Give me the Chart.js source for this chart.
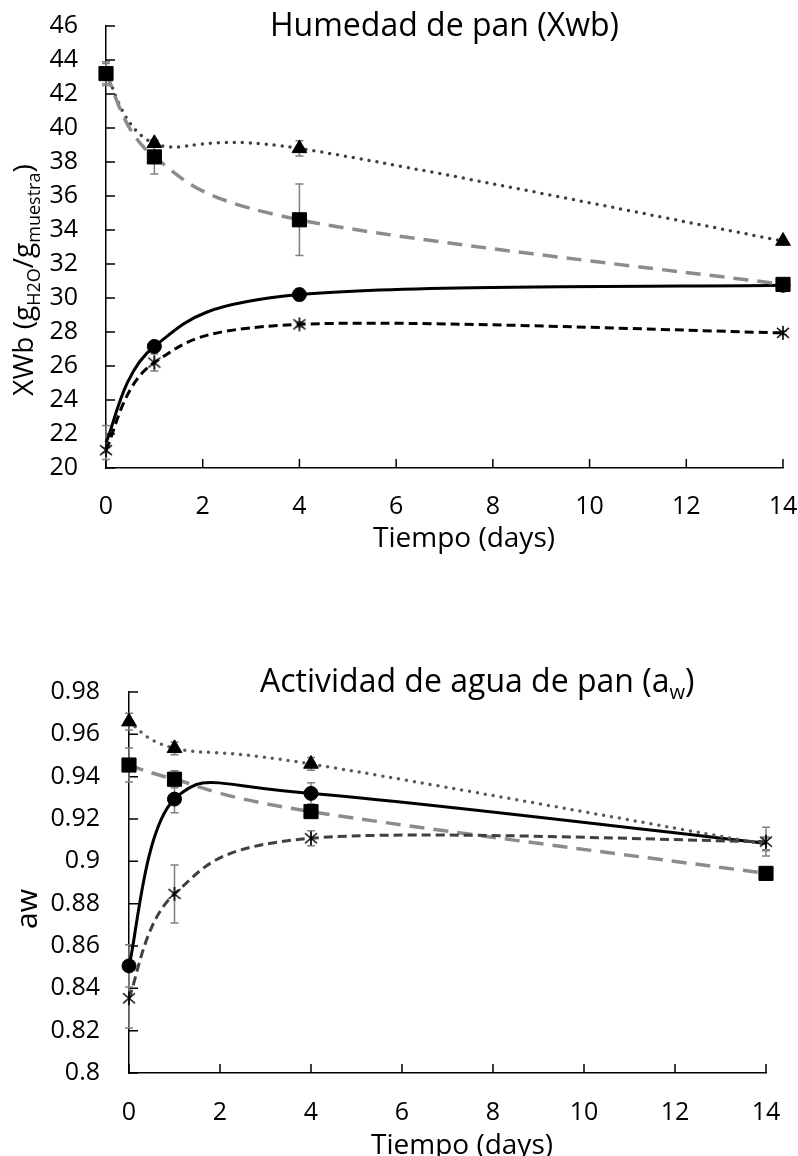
<!DOCTYPE html>
<html>
<head>
<meta charset="utf-8">
<script src="https://cdn.jsdelivr.net/npm/chart.js@4.4.0/dist/chart.umd.min.js"></script>
<style>
  body { margin: 0; background: #fff; }
  #wrap { position: relative; width: 798px; height: 1156px; }
  canvas { position: absolute; left: 0; }
</style>
</head>
<body>
<div id="wrap">
  <canvas id="xwb-chart" width="798" height="580" style="top:0"></canvas>
  <canvas id="aw-chart" width="798" height="576" style="top:580px"></canvas>
</div>
<script>
const days = [0, 1, 4, 14];

// Humedad (Xwb) per sample, with std. deviation
const xwbCircle = [21.5, 27.15, 30.2, 30.75];
const xwbCircleErr = [1.0, 0.25, 0.35, 0.2];
const xwbStar = [21.05, 26.2, 28.45, 27.95];
const xwbStarErr = [0.15, 0.5, 0.15, 0.1];
const xwbTriangle = [43.2, 39.1, 38.8, 33.35];
const xwbTriangleErr = [0.6, 0.2, 0.45, 0.1];
const xwbSquare = [43.2, 38.3, 34.6, 30.8];
const xwbSquareErr = [0.7, 1.0, 2.1, 0.15];

// Actividad de agua (aw)
const awCircle = [0.8506, 0.9294, 0.9321, 0.9085];
const awCircleErr = [0.01, 0.0065, 0.005, 0.003];
const awStar = [0.8353, 0.8846, 0.9109, 0.9093];
const awStarErr = [0.014, 0.0137, 0.0035, 0.0068];
const awTriangle = [0.966, 0.9534, 0.946, 0.908];
const awTriangleErr = [0.004, 0.003, 0.003, 0.003];
const awSquare = [0.9455, 0.9388, 0.9235, 0.8943];
const awSquareErr = [0.008, 0.004, 0.003, 0.002];

const xTicks = [0, 2, 4, 6, 8, 10, 12, 14];

const FONT = "'Open Sans'";

function pts(vals) {
  return days.map((d, i) => ({ x: d, y: vals[i] }));
}

// x with a vertical bar, like the spreadsheet "star" marker
function starMarker(color) {
  const c = document.createElement('canvas');
  c.width = 16; c.height = 16;
  const g = c.getContext('2d');
  g.strokeStyle = color;
  g.lineWidth = 1.6;
  g.beginPath();
  g.moveTo(2, 3); g.lineTo(14, 13);
  g.moveTo(14, 3); g.lineTo(2, 13);
  g.moveTo(8, 1); g.lineTo(8, 15);
  g.stroke();
  return c;
}

function drawRich(ctx, parts, x, y, align, rotate) {
  ctx.save();
  ctx.translate(x, y);
  if (rotate) ctx.rotate(-Math.PI / 2);
  ctx.fillStyle = '#000';
  ctx.textBaseline = 'alphabetic';
  ctx.textAlign = 'left';
  let total = 0;
  parts.forEach(p => {
    ctx.font = p.size + 'px ' + FONT;
    p.w = ctx.measureText(p.text).width;
    total += p.w;
  });
  let cx = align === 'center' ? -total / 2 : 0;
  parts.forEach(p => {
    ctx.font = p.size + 'px ' + FONT;
    ctx.fillText(p.text, cx, p.dy || 0);
    cx += p.w;
  });
  ctx.restore();
}

// spreadsheet-style smoothing: each control point sits 1/6 of the
// neighbour chord away from its point
const smoothLines = {
  id: 'smoothLines',
  afterDatasetsUpdate(chart) {
    chart.getSortedVisibleDatasetMetas().forEach(meta => {
      const p = meta.data;
      const n = p.length;
      for (let i = 0; i < n; i++) {
        const prev = p[Math.max(i - 1, 0)];
        const next = p[Math.min(i + 1, n - 1)];
        const dx = (next.x - prev.x) / 6;
        const dy = (next.y - prev.y) / 6;
        p[i].cp1x = p[i].x - dx; p[i].cp1y = p[i].y - dy;
        p[i].cp2x = p[i].x + dx; p[i].cp2y = p[i].y + dy;
      }
      meta.dataset._pointsUpdated = true;
    });
  }
};

// error bars + inward tick marks, drawn under the series
const axisExtras = {
  id: 'axisExtras',
  beforeDatasetsDraw(chart) {
    const { ctx, chartArea, scales: { x, y } } = chart;
    ctx.save();
    ctx.strokeStyle = '#000';
    ctx.lineWidth = 1.5;
    ctx.beginPath();
    x.ticks.forEach(t => {
      const px = x.getPixelForValue(t.value);
      ctx.moveTo(px, chartArea.bottom);
      ctx.lineTo(px, chartArea.bottom - 9);
    });
    y.ticks.forEach(t => {
      const py = y.getPixelForValue(t.value);
      ctx.moveTo(chartArea.left, py);
      ctx.lineTo(chartArea.left + 9, py);
    });
    ctx.stroke();

    ctx.strokeStyle = '#7f7f7f';
    ctx.lineWidth = 1.5;
    chart.data.datasets.forEach(ds => {
      (ds.errorBars || []).forEach((e, i) => {
        const p = ds.data[i];
        const px = x.getPixelForValue(p.x);
        const top = y.getPixelForValue(p.y + e);
        const bot = y.getPixelForValue(p.y - e);
        ctx.beginPath();
        ctx.moveTo(px, top); ctx.lineTo(px, bot);
        ctx.moveTo(px - 4, top); ctx.lineTo(px + 4, top);
        ctx.moveTo(px - 4, bot); ctx.lineTo(px + 4, bot);
        ctx.stroke();
      });
    });
    ctx.restore();
  }
};

function textPlugin(texts) {
  return {
    id: 'texts',
    afterDraw(chart) {
      texts.forEach(t => drawRich(chart.ctx, t.parts, t.x, t.y, t.align, t.rotate));
    }
  };
}

function series(vals, errs, style) {
  return Object.assign({
    data: pts(vals),
    errorBars: errs,
    showLine: true,
    fill: false,
    clip: false,
    tension: 0.4,
    pointBackgroundColor: '#000',
    pointBorderColor: '#000',
    pointBorderWidth: 1
  }, style);
}

function baseOptions(cfg) {
  const tickFont = { family: FONT, size: 25 };
  return {
    responsive: false,
    animation: false,
    layout: { padding: cfg.padding, autoPadding: false },
    plugins: { legend: { display: false }, tooltip: { enabled: false } },
    scales: {
      x: {
        type: 'linear', min: 0, max: 14,
        afterBuildTicks: s => { s.ticks = xTicks.map(v => ({ value: v })); },
        ticks: { font: tickFont, color: '#000', padding: cfg.xPad, autoSkip: false, maxRotation: 0 },
        grid: { display: false, drawTicks: false },
        border: { color: '#000', width: 1.5 },
        // fixed axis box, label overhang is left to the layout padding
        afterFit: s => { s.height = cfg.xHeight; s.paddingLeft = 0; s.paddingRight = 0; }
      },
      y: {
        min: cfg.yMin, max: cfg.yMax,
        ticks: { stepSize: cfg.yStep, font: tickFont, color: '#000', padding: cfg.yPad,
                 autoSkip: false, callback: v => String(+v.toFixed(2)) },
        grid: { display: false, drawTicks: false },
        border: { color: '#000', width: 1.5 },
        afterFit: s => { s.width = cfg.yWidth; s.paddingTop = 0; s.paddingBottom = 0; }
      }
    }
  };
}

// Humedad de pan
new Chart(document.getElementById('xwb-chart').getContext('2d'), {
  type: 'scatter',
  data: {
    datasets: [
      series(xwbStar, xwbStarErr, { borderColor: '#000', borderWidth: 3, borderDash: [9, 5],
        pointStyle: starMarker('#000'), pointRadius: 8 }),
      series(xwbSquare, xwbSquareErr, { borderColor: '#8c8c8c', borderWidth: 3.5, borderDash: [15, 9],
        pointStyle: 'rect', pointRadius: 10 }),
      series(xwbTriangle, xwbTriangleErr, { borderColor: '#404040', borderWidth: 3.5, borderDash: [0, 8],
        borderCapStyle: 'round', pointStyle: 'triangle', pointRadius: [0, 8.5, 8.5, 8.5] }),
      series(xwbCircle, xwbCircleErr, { borderColor: '#000', borderWidth: 3,
        pointStyle: 'circle', pointRadius: [0, 7, 7, 7] })
    ]
  },
  options: baseOptions({
    padding: { left: 0, top: 26, right: 15, bottom: 0 },
    xHeight: 112, xPad: 24, yWidth: 106, yPad: 28,
    yMin: 20, yMax: 46, yStep: 2
  }),
  plugins: [smoothLines, axisExtras, textPlugin([
    { parts: [{ text: 'Humedad de pan (Xwb)', size: 32 }], x: 270, y: 36, align: 'left' },
    { parts: [{ text: 'Tiempo (days)', size: 28 }], x: 464, y: 547, align: 'center' },
    { parts: [
        { text: 'XWb (g', size: 28 },
        { text: 'H2O', size: 18, dy: 7 },
        { text: '/g', size: 28 },
        { text: 'muestra', size: 18, dy: 7 },
        { text: ')', size: 28 }
      ], x: 33, y: 280, align: 'center', rotate: true }
  ])]
});

// Actividad de agua de pan
new Chart(document.getElementById('aw-chart').getContext('2d'), {
  type: 'scatter',
  data: {
    datasets: [
      series(awStar, awStarErr, { borderColor: '#404040', borderWidth: 3, borderDash: [9, 5],
        pointStyle: starMarker('#000'), pointRadius: 8 }),
      series(awSquare, awSquareErr, { borderColor: '#8c8c8c', borderWidth: 3.5, borderDash: [15, 9],
        pointStyle: 'rect', pointRadius: 10 }),
      series(awTriangle, awTriangleErr, { borderColor: '#595959', borderWidth: 3.5, borderDash: [0, 8],
        borderCapStyle: 'round', pointStyle: 'triangle', pointRadius: [8.5, 8.5, 8.5, 0] }),
      series(awCircle, awCircleErr, { borderColor: '#000', borderWidth: 3,
        pointStyle: 'circle', pointRadius: [7, 7, 7, 0] })
    ]
  },
  options: baseOptions({
    padding: { left: 0, top: 112, right: 32, bottom: 0 },
    xHeight: 83, xPad: 25, yWidth: 129, yPad: 29,
    yMin: 0.8, yMax: 0.98, yStep: 0.02
  }),
  plugins: [smoothLines, axisExtras, textPlugin([
    { parts: [
        { text: 'Actividad de agua de pan (a', size: 32 },
        { text: 'w', size: 20, dy: 7 },
        { text: ')', size: 32 }
      ], x: 260, y: 112, align: 'left' },
    { parts: [{ text: 'Tiempo (days)', size: 28 }], x: 462, y: 574, align: 'center' },
    { parts: [{ text: 'aw', size: 30 }], x: 37, y: 329, align: 'center', rotate: true }
  ])]
});
</script>
</body>
</html>
